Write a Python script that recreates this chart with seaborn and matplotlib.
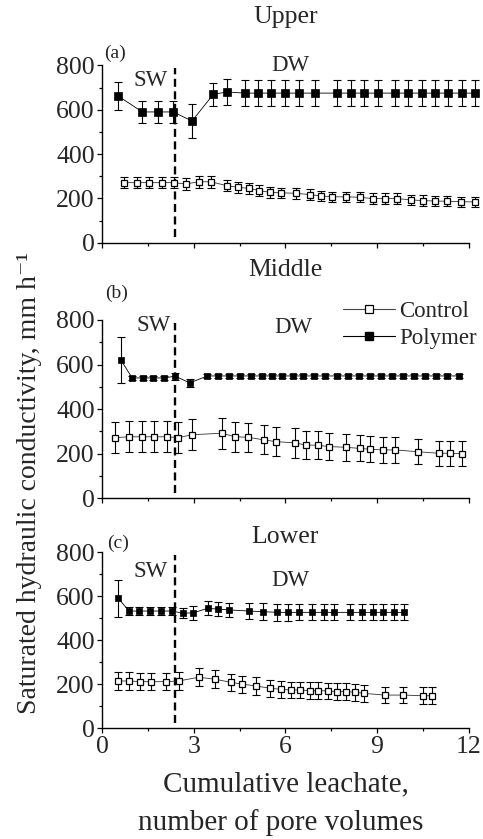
import numpy as np
import pandas as pd
import matplotlib
matplotlib.use("Agg")
import matplotlib.pyplot as plt
from matplotlib.lines import Line2D
from matplotlib.ticker import MultipleLocator
import seaborn as sns

# ---------------- data ----------------
# Panel (a) Upper
upper_poly_x = [0.52, 1.31, 1.82, 2.32, 2.94, 3.64, 4.10, 4.66, 5.09, 5.53, 5.98, 6.43, 6.97, 7.70,
                8.14, 8.58, 9.02, 9.60, 10.03, 10.47, 10.90, 11.34, 11.78, 12.22]
upper_poly_y = [662, 590, 590, 590, 549, 670, 680, 675, 675, 675, 675, 675, 675, 675,
                675, 675, 675, 675, 675, 675, 675, 675, 675, 675]
upper_poly_e = [65, 48, 48, 48, 75, 51, 59, 57, 57, 57, 57, 57, 57, 57,
                57, 57, 57, 57, 57, 57, 57, 57, 57, 57]
upper_ctrl_x = [0.72, 1.13, 1.53, 1.95, 2.35, 2.73, 3.16, 3.56, 4.08, 4.44, 4.81, 5.15, 5.50, 5.86,
                6.35, 6.79, 7.16, 7.54, 7.99, 8.43, 8.87, 9.28, 9.67, 10.11, 10.50, 10.91, 11.31,
                11.75, 12.20]
upper_ctrl_y = [271, 271, 271, 271, 271, 265, 275, 275, 257, 250, 245, 235, 227, 225,
                223, 217, 211, 207, 207, 205, 199, 199, 199, 193, 190, 188, 187, 185, 184]
upper_ctrl_e = [25, 25, 25, 25, 25, 25, 26, 26, 25, 25, 25, 24, 24, 24,
                24, 24, 24, 23, 23, 23, 23, 23, 23, 23, 23, 23, 23, 23, 23]

# Panel (b) Middle
middle_poly_x = [0.61, 0.98, 1.32, 1.67, 2.03, 2.38, 2.87, 3.44, 3.80, 4.15, 4.51, 4.87, 5.23, 5.57,
                 5.90, 6.24, 6.59, 6.95, 7.31, 7.69, 8.05, 8.41, 8.78, 9.13, 9.50, 9.86, 10.22,
                 10.58, 10.94, 11.31, 11.70]
middle_poly_y = [620, 540, 540, 540, 540, 548, 518, 549, 549, 549, 549, 549, 549, 549,
                 549, 549, 549, 549, 549, 549, 549, 549, 549, 549, 549, 549, 549, 549, 549, 549, 549]
middle_poly_e = [102, 8, 8, 8, 8, 15, 19, 8, 8, 8, 8, 8, 8, 8,
                 8, 8, 8, 8, 8, 8, 8, 8, 8, 8, 8, 8, 8, 8, 8, 8, 8]
middle_ctrl_x = [0.42, 0.86, 1.29, 1.70, 2.12, 2.49, 2.93, 3.91, 4.35, 4.77, 5.30, 5.70,
                 6.30, 6.67, 7.06, 7.44, 7.97, 8.43, 8.78, 9.19, 9.60, 10.34, 11.02, 11.40, 11.78]
middle_ctrl_y = [272, 276, 276, 276, 276, 272, 285, 292, 276, 274, 262, 254,
                 249, 239, 238, 232, 229, 224, 220, 217, 217, 209, 202, 202, 200]
middle_ctrl_e = [69, 70, 70, 70, 70, 70, 70, 70, 68, 66, 65, 65,
                 67, 63, 62, 60, 60, 58, 58, 57, 57, 55, 55, 55, 55]

# Panel (c) Lower
lower_poly_x = [0.52, 0.88, 1.21, 1.57, 1.92, 2.28, 2.64, 2.98, 3.45, 3.80, 4.16, 4.82, 5.28,
                5.74, 6.08, 6.44, 6.88, 7.26, 7.58, 8.12, 8.50, 8.86, 9.20, 9.55, 9.88]
lower_poly_y = [591, 533, 533, 533, 533, 533, 523, 525, 545, 542, 538, 533, 530,
                527, 527, 527, 527, 527, 527, 527, 527, 527, 527, 527, 527]
lower_poly_e = [83, 20, 20, 20, 20, 20, 22, 32, 32, 32, 30, 35, 38,
                38, 38, 36, 36, 36, 36, 36, 36, 36, 36, 36, 36]
lower_ctrl_x = [0.52, 0.89, 1.24, 1.60, 2.10, 2.50, 3.16, 3.70, 4.21, 4.58, 5.05, 5.50, 5.86,
                6.17, 6.48, 6.79, 7.08, 7.39, 7.68, 7.98, 8.27, 8.56, 9.26, 9.86, 10.50, 10.82]
lower_ctrl_y = [215, 215, 212, 212, 212, 215, 232, 223, 209, 201, 192, 182, 177,
                174, 174, 171, 171, 170, 167, 167, 164, 159, 151, 151, 148, 148]
lower_ctrl_e = [40, 40, 40, 40, 40, 40, 40, 40, 40, 39, 39, 39, 38,
                38, 38, 38, 38, 38, 38, 38, 38, 38, 38, 38, 38, 38]

panel_titles = ["Upper", "Middle", "Lower"]
panel_tags = ["(a)", "(b)", "(c)"]
series_names = ["Control", "Polymer"]
x_ticks = [0, 3, 6, 9, 12]
y_ticks = [0, 200, 400, 600, 800]
switch_x = 2.38

# ---------------- style ----------------
sns.set_style("ticks")
plt.rcParams["font.family"] = ["Liberation Serif", "DejaVu Serif"]

W, H = 483, 839
fig = plt.figure(figsize=(W / 100, H / 100), dpi=100)

left_px, right_px = 102.3, 468.5
panel_px = [(65.4, 242.7), (320.0, 498.3), (552.3, 728.3)]

panels = [
    (upper_ctrl_x, upper_ctrl_y, upper_ctrl_e, upper_poly_x, upper_poly_y, upper_poly_e),
    (middle_ctrl_x, middle_ctrl_y, middle_ctrl_e, middle_poly_x, middle_poly_y, middle_poly_e),
    (lower_ctrl_x, lower_ctrl_y, lower_ctrl_e, lower_poly_x, lower_poly_y, lower_poly_e),
]
title_y = [1.273, 1.28, 1.087]
tag_pos = [(0.035, 1.068), (0.039, 1.15), (0.044, 1.051)]
sw_pos = [(1.59, 734), (1.67, 777), (1.59, 712)]
dw_pos = [(6.15, 800), (6.26, 767), (6.15, 674)]
msize_ctrl = [4.6, 5.0, 4.3]
msize_poly = [5.6, 5.0, 4.6]

axes = []
for i, (cx, cy, ce, px_, py_, pe) in enumerate(panels):
    top, bot = panel_px[i]
    ax = fig.add_axes([left_px / W, 1 - bot / H, (right_px - left_px) / W, (bot - top) / H])
    axes.append(ax)

    df_c = pd.DataFrame({"x": cx, "y": cy, "e": ce})
    df_p = pd.DataFrame({"x": px_, "y": py_, "e": pe})

    # error bars
    ax.errorbar(df_c["x"], df_c["y"], yerr=df_c["e"], fmt="none", ecolor="black",
                elinewidth=0.8, capsize=2.8, capthick=0.8, clip_on=False, zorder=2)
    ax.errorbar(df_p["x"], df_p["y"], yerr=df_p["e"], fmt="none", ecolor="black",
                elinewidth=0.8, capsize=2.8, capthick=0.8, clip_on=False, zorder=2)

    # lines + markers
    sns.lineplot(data=df_c, x="x", y="y", ax=ax, color="#333333", lw=0.6,
                 marker="s", markersize=msize_ctrl[i], markerfacecolor="white",
                 markeredgecolor="black", markeredgewidth=0.9, estimator=None,
                 sort=False, clip_on=False, zorder=3)
    sns.lineplot(data=df_p, x="x", y="y", ax=ax, color="black", lw=0.6,
                 marker="s", markersize=msize_poly[i], markerfacecolor="black",
                 markeredgecolor="black", markeredgewidth=0.5, estimator=None,
                 sort=False, clip_on=False, zorder=3)

    # dashed divider
    ax.axvline(switch_x, ymin=0.03, ymax=0.985, color="black", lw=1.7,
               dashes=(3.4, 1.9), zorder=1)

    ax.set_xlim(0, 12)
    ax.set_ylim(0, 800)
    ax.set_xticks(x_ticks)
    ax.set_yticks(y_ticks)
    ax.xaxis.set_minor_locator(MultipleLocator(1.5))
    ax.yaxis.set_minor_locator(MultipleLocator(100))
    ax.tick_params(which="major", direction="out", length=3.8, width=0.9,
                   labelsize=18.5, pad=1.5, color="black")
    ax.tick_params(which="minor", direction="out", length=2.4, width=0.9, color="black")
    if i < 2:
        ax.tick_params(axis="x", which="both", labelbottom=False)
    for s in ["top", "right"]:
        ax.spines[s].set_visible(False)
    for s in ["left", "bottom"]:
        ax.spines[s].set_linewidth(1.0)
        ax.spines[s].set_color("black")
    ax.set_xlabel("")
    ax.set_ylabel("")

    ax.text(0.5, title_y[i], panel_titles[i], transform=ax.transAxes,
            ha="center", va="center", fontsize=18.5)
    ax.text(tag_pos[i][0], tag_pos[i][1], panel_tags[i], transform=ax.transAxes,
            ha="center", va="center", fontsize=14)
    ax.text(sw_pos[i][0], sw_pos[i][1], "SW", ha="center", va="center", fontsize=16.5)
    ax.text(dw_pos[i][0], dw_pos[i][1], "DW", ha="center", va="center", fontsize=16.5)

# legend in panel b
handles = [
    Line2D([], [], color="#444444", lw=0.8, marker="s", markersize=5.5,
           markerfacecolor="white", markeredgecolor="black", markeredgewidth=0.9),
    Line2D([], [], color="black", lw=0.8, marker="s", markersize=5.5,
           markerfacecolor="black", markeredgecolor="black"),
]
axes[1].legend(handles, series_names, loc="upper left",
               bbox_to_anchor=(343 / W, 1 - 301 / H), bbox_transform=fig.transFigure,
               frameon=False, borderpad=0, borderaxespad=0, handlelength=2.25,
               handletextpad=0.22, labelspacing=0.28, fontsize=16.5, numpoints=1)

# axis labels
fig.text(30 / W, 1 - 483 / H, "Saturated hydraulic conductivity, mm h\u207b\u00b9",
         rotation=90, ha="center", va="center", fontsize=20)
fig.text(285.5 / W, 1 - 791 / H, "Cumulative leachate,", ha="center", va="baseline",
         fontsize=21)
fig.text(281 / W, 1 - 830 / H, "number of pore volumes", ha="center", va="baseline",
         fontsize=21)

fig.savefig("out.png", dpi=100)
